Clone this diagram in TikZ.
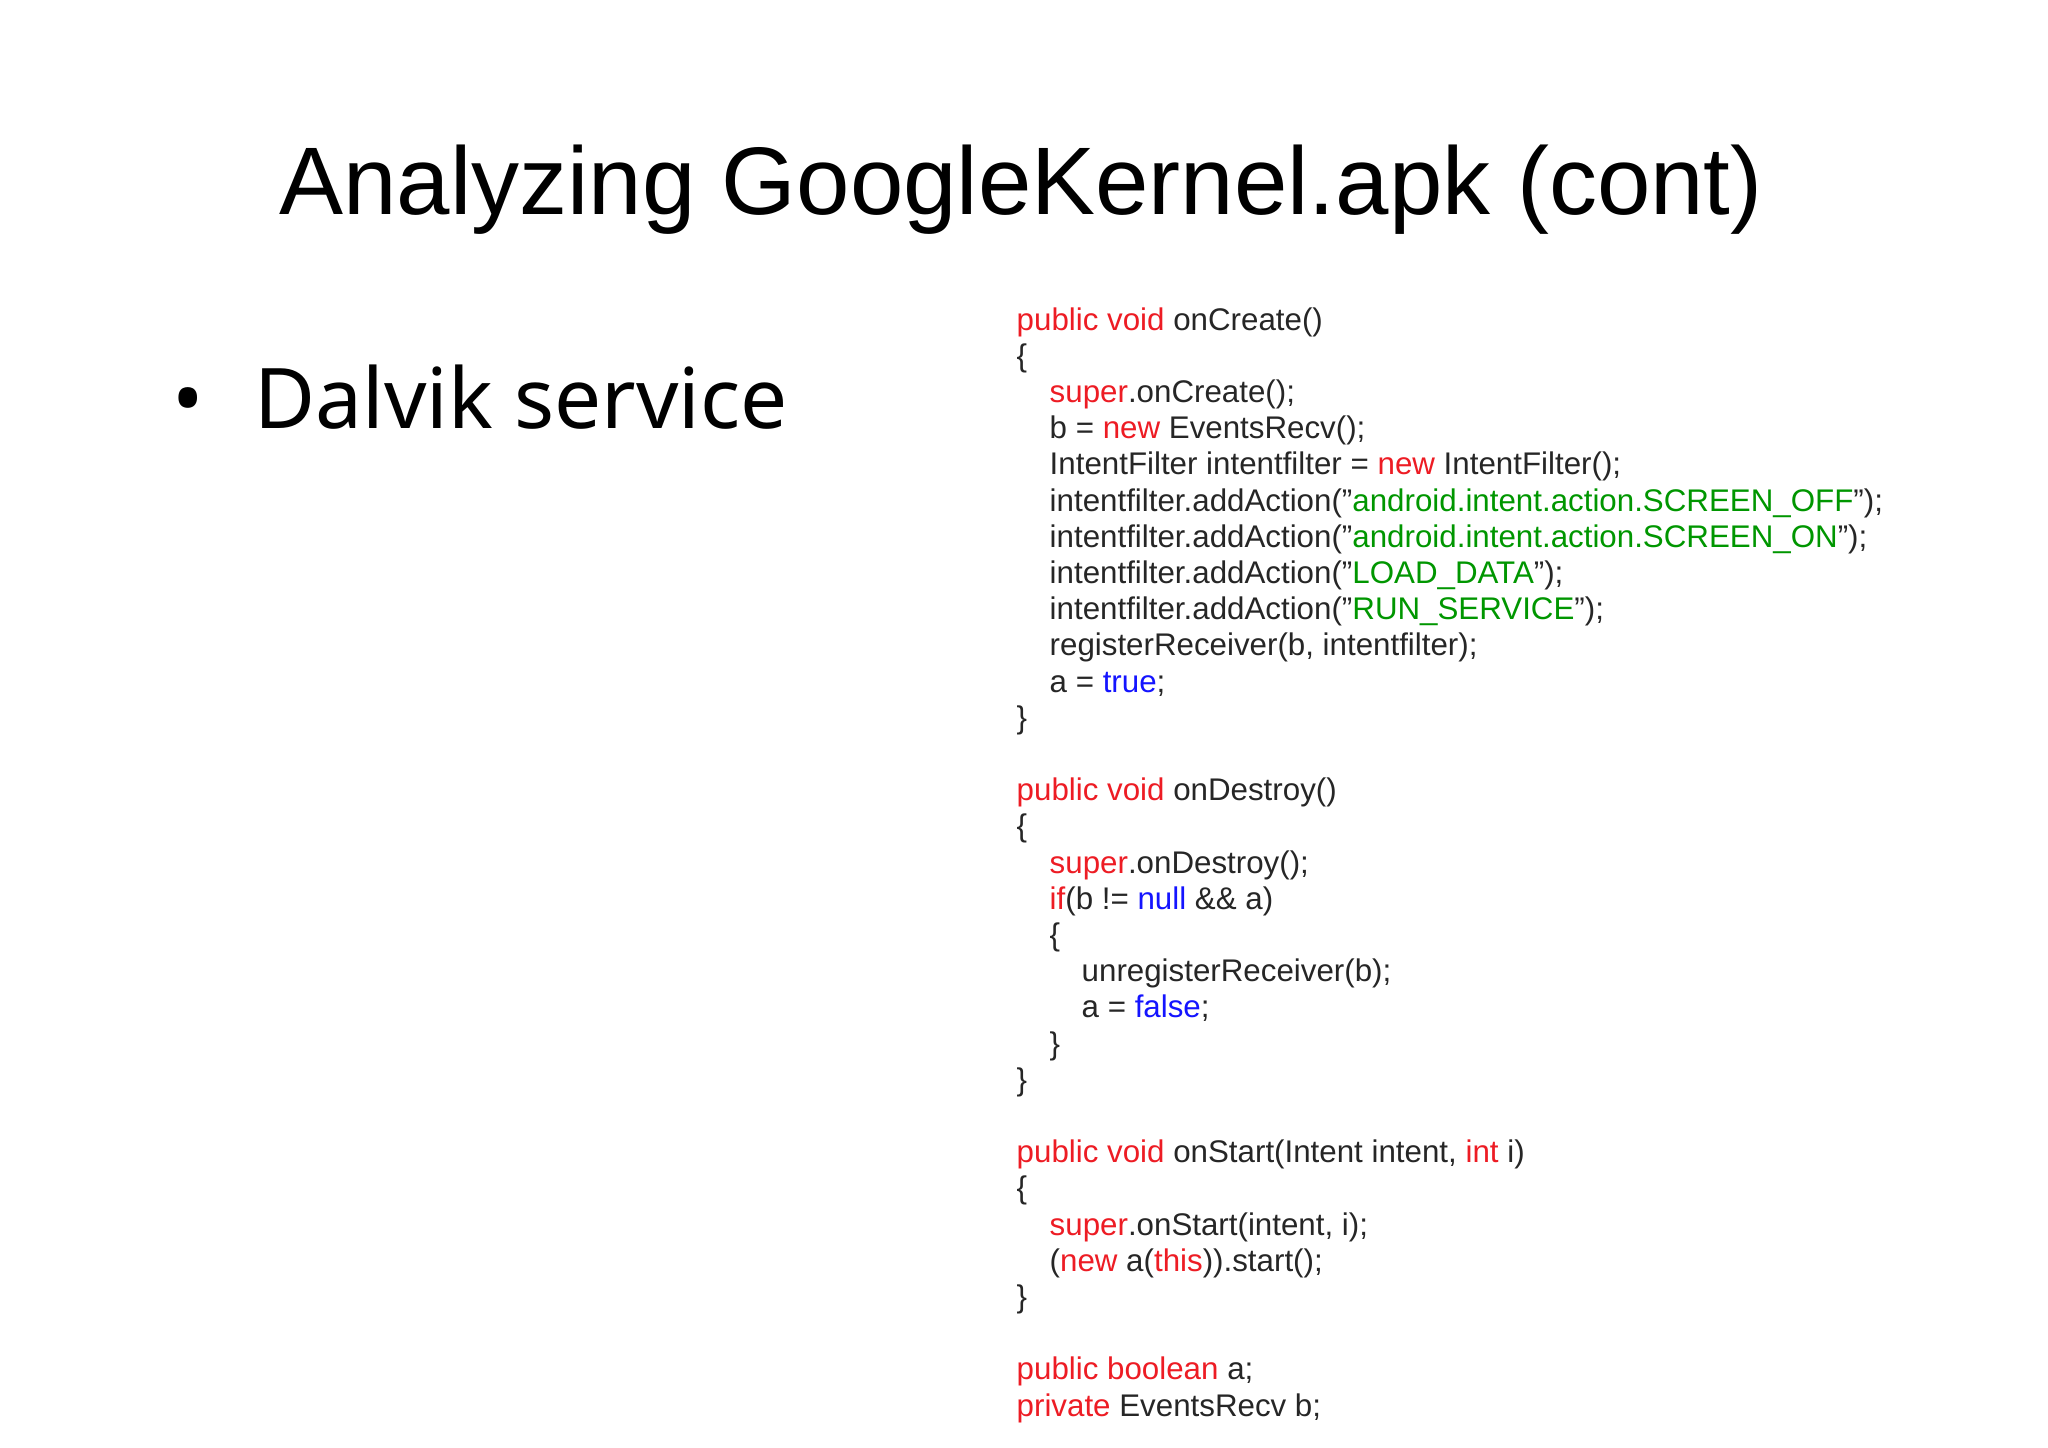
\documentclass[tikz,border=0pt]{standalone}
\usepackage{fontspec}
\setmainfont{Liberation Sans}
\newfontfamily\bul{Noto Sans}
\definecolor{kred}{RGB}{237,28,36}
\definecolor{kgreen}{RGB}{0,150,0}
\definecolor{kblue}{RGB}{20,20,255}
\newcommand{\Rd}[1]{\textcolor{kred}{#1}}
\newcommand{\Gn}[1]{\textcolor{kgreen}{#1}}
\newcommand{\Bl}[1]{\textcolor{kblue}{#1}}
\newcommand{\qq}{\char"22\relax}
\tikzset{codeline/.style={anchor=base west,inner sep=0pt,font=\fontsize{8.9}{10}\selectfont,text=black!85}}
\begin{document}
\begin{tikzpicture}[x=0.01cm,y=-0.01cm]
\useasboundingbox (0,0) rectangle (2048,1447);
\node (title) at (1021,190) {\fontsize{27.3}{32}\selectfont Analyzing GoogleKernel.apk (cont)};
\node[anchor=base west,inner sep=0pt] (bullet) at (172,428) {\bul\fontsize{23.8}{28}\selectfont •\hspace{0.6em}Dalvik service};
\newcommand{\cl}[3]{\node[codeline] (l#1) at (#2,{330+#1*36.2}) {#3};}
\cl{0}{1016}{\Rd{public void} onCreate()}
\cl{1}{1016}{\{}
\cl{2}{1049}{\Rd{super}.onCreate();}
\cl{3}{1049}{b = \Rd{new} EventsRecv();}
\cl{4}{1049}{IntentFilter intentfilter = \Rd{new} IntentFilter();}
\cl{5}{1049}{intentfilter.addAction(\qq\Gn{android.intent.action.SCREEN\_OFF}\qq);}
\cl{6}{1049}{intentfilter.addAction(\qq\Gn{android.intent.action.SCREEN\_ON}\qq);}
\cl{7}{1049}{intentfilter.addAction(\qq\Gn{LOAD\_DATA}\qq);}
\cl{8}{1049}{intentfilter.addAction(\qq\Gn{RUN\_SERVICE}\qq);}
\cl{9}{1049}{registerReceiver(b, intentfilter);}
\cl{10}{1049}{a = \Bl{true};}
\cl{11}{1016}{\}}
\cl{13}{1016}{\Rd{public void} onDestroy()}
\cl{14}{1016}{\{}
\cl{15}{1049}{\Rd{super}.onDestroy();}
\cl{16}{1049}{\Rd{if}(b != \Bl{null} \&\& a)}
\cl{17}{1049}{\{}
\cl{18}{1081}{unregisterReceiver(b);}
\cl{19}{1081}{a = \Bl{false};}
\cl{20}{1049}{\}}
\cl{21}{1016}{\}}
\cl{23}{1016}{\Rd{public void} onStart(Intent intent, \Rd{int} i)}
\cl{24}{1016}{\{}
\cl{25}{1049}{\Rd{super}.onStart(intent, i);}
\cl{26}{1049}{(\Rd{new} a(\Rd{this})).start();}
\cl{27}{1016}{\}}
\cl{29}{1016}{\Rd{public boolean} a;}
\cl{30}{1016}{\Rd{private} EventsRecv b;}
\end{tikzpicture}
\end{document}
